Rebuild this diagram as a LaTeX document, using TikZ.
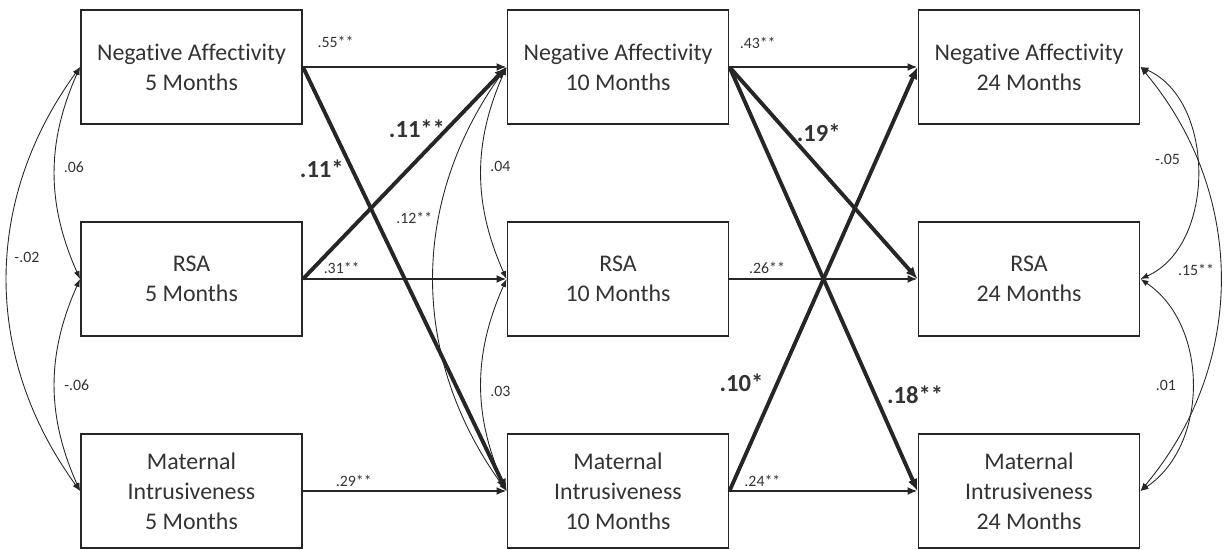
\documentclass[tikz,border=0pt]{standalone}
\usepackage{fontspec}
\setmainfont{Carlito}[Ligatures={NoCommon, NoRare}]
\usepackage{tikz}
\usetikzlibrary{positioning, arrows.meta}

\begin{document}
\begin{tikzpicture}[
        box/.style={rectangle, draw=black!85, line width=1.1pt, minimum width=4.42cm, minimum height=2.28cm, align=center, inner sep=0pt, text=black!80, font=\fontsize{13.6}{17}\selectfont},
        reg/.style={line width=1.1pt, draw=black!85, -{Latex[length=2mm, width=1.6mm]}},
        cross/.style={line width=2.2pt, draw=black!85, -{Latex[length=2.4mm, width=2mm]}},
        cov/.style={line width=0.5pt, draw=black!85, {Latex[length=1.6mm, width=1.2mm]}-{Latex[length=1.6mm, width=1.2mm]}},
        lbl/.style={inner sep=0pt, text=black!80, font=\fontsize{9}{10}\selectfont},
        big/.style={inner sep=0pt, text=black!80, font=\bfseries\fontsize{14}{16}\selectfont}]
        \useasboundingbox (0,0) rectangle (24.5,11);

        \node[box] (na5) at (3.83,9.66) {Negative Affectivity\\5 Months};
        \node[box] (rsa5) at (3.83,5.42) {RSA\\5 Months};
        \node[box] (mi5) at (3.83,1.18) {Maternal\\Intrusiveness\\5 Months};

        \node[box] (na10) at (12.36,9.66) {Negative Affectivity\\10 Months};
        \node[box] (rsa10) at (12.36,5.42) {RSA\\10 Months};
        \node[box] (mi10) at (12.36,1.18) {Maternal\\Intrusiveness\\10 Months};

        \node[box] (na24) at (20.58,9.66) {Negative Affectivity\\24 Months};
        \node[box] (rsa24) at (20.58,5.42) {RSA\\24 Months};
        \node[box] (mi24) at (20.58,1.18) {Maternal\\Intrusiveness\\24 Months};

        % Stability
        \draw[reg] (na5.east) -- node[lbl, pos=0.16, yshift=0.5cm] {.55**} (na10.west);
        \draw[reg] (rsa5.east) -- node[lbl, pos=0.19, yshift=0.22cm] {.31**} (rsa10.west);
        \draw[reg] (mi5.east) -- node[lbl, pos=0.25, yshift=0.2cm] {.29**} (mi10.west);

        \draw[reg] (na10.east) -- node[lbl, pos=0.15, yshift=0.48cm] {.43**} (na24.west);
        \draw[reg] (rsa10.east) -- node[lbl, pos=0.2, yshift=0.22cm] {.26**} (rsa24.west);
        \draw[reg] (mi10.east) -- node[lbl, pos=0.175, yshift=0.2cm] {.24**} (mi24.west);

        % Cross-lagged
        \draw[cross] (na5.east) -- node[big, pos=0.24, xshift=-0.6cm] {.11*} (mi10.west);
        \draw[cross] (rsa5.east) -- node[big, pos=0.56, yshift=0.62cm] {.11**} (na10.west);

        \draw[cross] (na10.east) -- node[big, pos=0.31, xshift=0.62cm] {.19*} (rsa24.west);
        \draw[cross] (na10.east) -- node[big, pos=0.774, xshift=0.8cm] {.18**} (mi24.west);
        \draw[cross] (mi10.east) -- node[big, pos=0.255, xshift=-0.72cm] {.10*} (na24.west);

        % Covariances 5 months
        \draw[cov] (na5.west) to[bend right=24] node[lbl, pos=0.47, xshift=0.38cm] {.06} (rsa5.west);
        \draw[cov] (rsa5.west) to[bend right=24] node[lbl, pos=0.5, xshift=0.44cm] {-.06} (mi5.west);
        \draw[cov] (na5.west) to[bend right=36] node[lbl, pos=0.45, xshift=0.38cm] {-.02} (mi5.west);

        % Covariances 10 months
        \draw[cov] (na10.west) to[bend right=24] node[lbl, pos=0.47, xshift=0.38cm] {.04} (rsa10.west);
        \draw[cov] (rsa10.west) to[bend right=24] node[lbl, pos=0.53, xshift=0.38cm] {.03} (mi10.west);
        \draw[cov] (na10.west) to[bend right=36] node[lbl, pos=0.36, xshift=-0.5cm] {.12**} (mi10.west);

        % Covariances 24 months
        \draw[cov] (na24.east) to[bend left=66] node[lbl, pos=0.45, xshift=-0.58cm] {-.05} (rsa24.east);
        \draw[cov] (rsa24.east) to[bend left=56] node[lbl, pos=0.5, xshift=-0.52cm] {.01} (mi24.east);
        \draw[cov] (na24.east) to[bend left=40] node[lbl, pos=0.48, xshift=-0.48cm] {.15**} (mi24.east);
    \end{tikzpicture}
\end{document}
